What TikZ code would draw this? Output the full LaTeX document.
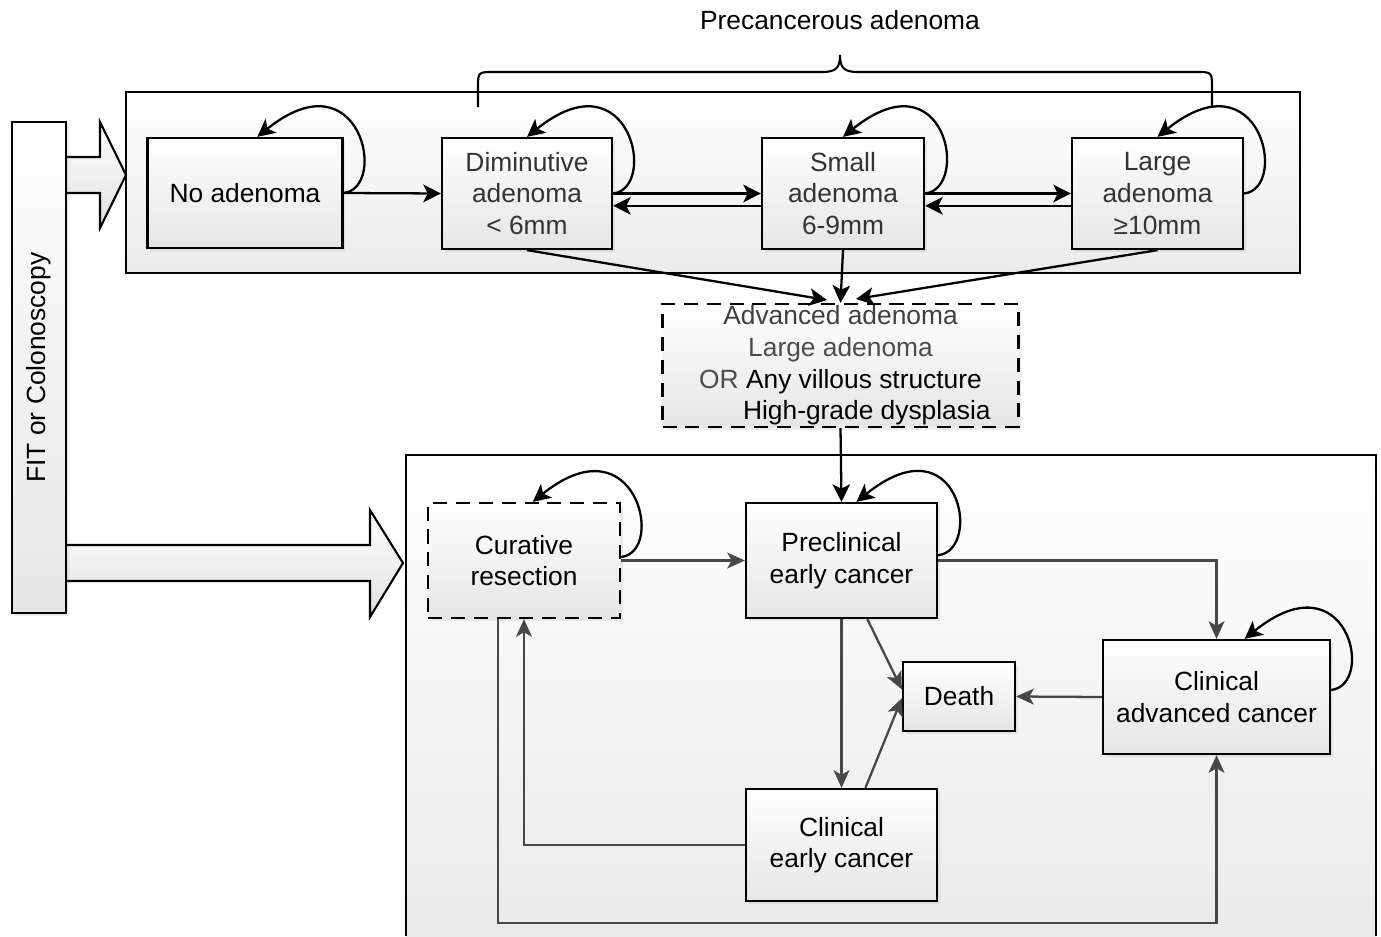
\documentclass[tikz,border=0pt]{standalone}
\usepackage{fontspec}
\setmainfont{Liberation Sans}
\usetikzlibrary{arrows.meta,shadows}

\tikzset{
  box/.style={draw, line width=1.3pt, top color=white, bottom color=black!10,
    align=center, inner sep=0pt,
    drop shadow={shadow xshift=1.5pt, shadow yshift=-1.5pt, opacity=0.15}},
  dbox/.style={box, dash pattern=on 8pt off 5pt},
  panel/.style={line width=1.2pt, top color=white, bottom color=black!8},
  arr/.style={-{Stealth[length=10pt,width=10pt,inset=2.5pt]}, line width=1.3pt},
  garr/.style={-{Stealth[length=10pt,width=9pt,inset=2.5pt]}, line width=1.3pt, draw=black!72},
  selfloop/.style={-{Stealth[length=10pt,width=10pt,inset=2.5pt]}, line width=1.3pt},
}

\begin{document}
\begin{tikzpicture}[x=0.02cm, y=-0.02cm, font=\fontsize{15}{18}\selectfont]
\useasboundingbox (0,0) rectangle (1381,936);
%% panels
\draw[panel] (126,92) rectangle (1300,273);
\shade[top color=white, bottom color=black!8] (406,455) rectangle (1376,936);
\draw[line width=1.2pt] (406,936) |- (1376,455) -- (1376,936);
%% brace
\draw[line width=1.2pt] (478,107) -- (478,88) .. controls (478,72) .. (494,72) -- (822,72)
  .. controls (836,72) and (840,68) .. (840,55) .. controls (840,68) and (844,72) .. (858,72)
  -- (1196,72) .. controls (1212,72) .. (1212,88) -- (1212,107);
\node (precanc) at (840,20) {Precancerous adenoma};
%% block arrows
\draw[line width=1.2pt, top color=white, bottom color=black!12]
  (66,157) -- (100,157) -- (100,122) -- (126,175) -- (100,228) -- (100,193) -- (66,193);
\draw[line width=1.2pt, top color=white, bottom color=black!12]
  (66,545) -- (370,545) -- (370,510) -- (403,563) -- (370,617) -- (370,581) -- (66,581);
\node[box, rotate=90, minimum width=9.82cm, minimum height=1.08cm] (fit) at (39,367.5) {FIT or Colonoscopy};
%% adenoma states
\node[box, minimum width=3.9cm, minimum height=2.2cm] (noad) at (245,193) {No adenoma};
\node[box, text=black!80, minimum width=3.4cm, minimum height=2.22cm] (dim) at (527,193.5) {Diminutive\\adenoma\\< 6mm};
\node[box, text=black!80, minimum width=3.24cm, minimum height=2.22cm] (small) at (843,193.5) {Small\\adenoma\\6-9mm};
\node[box, text=black!80, minimum width=3.42cm, minimum height=2.22cm] (large) at (1157.5,193.5) {Large\\adenoma\\≥10mm};
\node[dbox, minimum width=7.12cm, minimum height=2.46cm] (adv) at (840.5,365.5)
  {{\color{black!75}Advanced adenoma}\\{\color{black!70}Large adenoma}\\{\color{black!70}OR} Any villous structure\\\hspace*{30pt}High-grade dysplasia};
%% cancer states
\node[dbox, minimum width=3.84cm, minimum height=2.3cm] (cur) at (524,560.5) {Curative\\resection};
\node[box, minimum width=3.82cm, minimum height=2.3cm] (pre) at (841.5,560.5) {Preclinical\\early cancer};
\node[box, minimum width=2.24cm, minimum height=1.38cm] (death) at (959,696.5) {Death};
\node[box, minimum width=4.54cm, minimum height=2.28cm] (cadv) at (1216.5,697) {Clinical\\advanced cancer};
\node[box, minimum width=3.82cm, minimum height=2.24cm] (cearly) at (841.5,845) {Clinical\\early cancer};
\coordinate (advin-l) at (827,300);
\coordinate (advin-r) at (856,299);
\coordinate (lowrun) at (700,923);
%% top arrows
\draw[arr] (noad.east) -- (dim.west);
\draw[arr] (dim.east) -- (small.west);
\draw[arr] ([yshift=-7pt]small.west) -- ([yshift=-7pt]dim.east);
\draw[arr] (small.east) -- (large.west);
\draw[arr] ([yshift=-7pt]large.west) -- ([yshift=-7pt]small.east);
\draw[arr] (dim.south) -- (advin-l);
\draw[arr] (small.south) -- (adv.north);
\draw[arr] (large.south) -- (advin-r);
\draw[arr] (adv.south) -- (pre.north);
%% self loops
\draw[selfloop] (noad.east) .. controls +(45,-5) and +(103,-83) .. ([xshift=7pt]noad.north);
\draw[selfloop] (dim.east) .. controls +(45,-5) and +(103,-83) .. (dim.north);
\draw[selfloop] (small.east) .. controls +(45,-5) and +(103,-83) .. (small.north);
\draw[selfloop] (large.east) .. controls +(45,-5) and +(103,-83) .. (large.north);
\draw[selfloop] ([yshift=2pt]cur.east) .. controls +(45,-5) and +(103,-83) .. ([xshift=5pt]cur.north);
\draw[selfloop] ([yshift=3pt]pre.east) .. controls +(45,-5) and +(103,-83) .. ([xshift=8.5pt]pre.north);
\draw[selfloop] ([yshift=4pt]cadv.east) .. controls +(45,-5) and +(103,-83) .. ([xshift=16pt]cadv.north);
%% cancer arrows
\draw[garr] (cur.east) -- (pre.west);
\draw[garr] (pre.east) -| (cadv.north);
\draw[garr] (pre.south) -- (cearly.north);
\draw[garr] ([xshift=14.7pt]pre.south) -- ([yshift=4pt]death.west);
\draw[garr] ([xshift=13.6pt]cearly.north) -- ([yshift=-1pt]death.west);
\draw[garr] (cadv.west) -- (death.east);
\draw[garr] (cearly.west) -| (cur.south);
\draw[garr] ([xshift=-14.7pt]cur.south) |- (lowrun) -| (cadv.south);
\end{tikzpicture}
\end{document}
